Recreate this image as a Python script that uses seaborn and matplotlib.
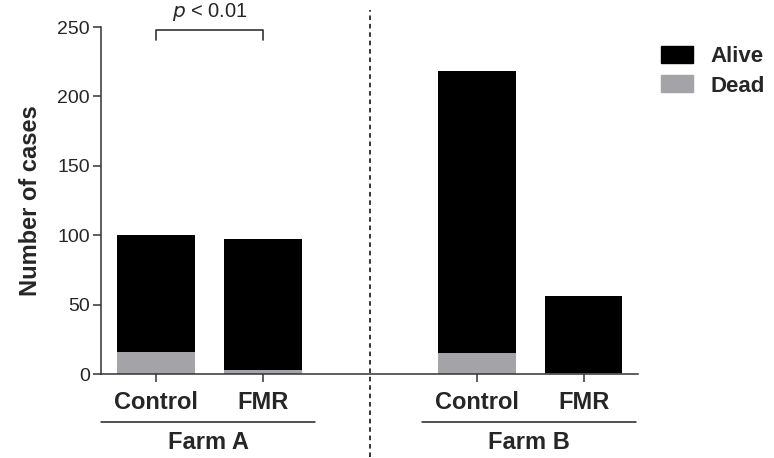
import matplotlib
matplotlib.use('Agg')
import matplotlib.pyplot as plt
from matplotlib.patches import Patch
import pandas as pd
import seaborn as sns

# Data
farms = ['Farm A', 'Farm A', 'Farm B', 'Farm B']
groups = ['Control', 'FMR', 'Control', 'FMR']
alive = [84, 94, 203, 55]
dead = [16, 3, 15, 1]
farm_names = ['Farm A', 'Farm B']
y_ticks = [0, 50, 100, 150, 200, 250]
p_text = r'$\it{p}$ < 0.01'

BLACK = '#000000'
GREY = '#a3a3a8'
AXCOL = '#333333'

df = pd.DataFrame({'farm': farms, 'group': groups, 'alive': alive, 'dead': dead})
df['total'] = df['alive'] + df['dead']
# position: one empty slot between the two farms
df['pos'] = [farm_names.index(f) * 3 + (0 if g == 'Control' else 1) for f, g in zip(df['farm'], df['group'])]

sns.set_style('white')
plt.rcParams['font.family'] = ['Liberation Sans', 'DejaVu Sans']

fig = plt.figure(figsize=(7.74, 4.58), dpi=100)
ax = fig.add_axes([0.1305, 0.1834, 0.6938, 0.7576])

sns.barplot(data=df, x='pos', y='total', native_scale=True, color=BLACK, saturation=1,
            width=0.72, errorbar=None, ax=ax, linewidth=0)
sns.barplot(data=df, x='pos', y='dead', native_scale=True, color=GREY, saturation=1,
            width=0.72, errorbar=None, ax=ax, linewidth=0)

ax.set_xlim(-0.514, 4.505)
ax.set_ylim(0, 250)
ax.set_yticks(y_ticks)
ax.set_yticklabels([str(v) for v in y_ticks], fontsize=14)
ax.set_xticks(df['pos'])
ax.set_xticklabels(df['group'], fontsize=17, fontweight='bold')
ax.tick_params(axis='both', direction='out', length=6, width=1.1, color=AXCOL, bottom=True, left=True)
ax.tick_params(axis='x', pad=6)
ax.tick_params(axis='y', pad=2)
ax.set_xlabel('')
ax.set_ylabel('Number of cases', fontsize=17, fontweight='bold', labelpad=11)
sns.despine(ax=ax)
for s in ['left', 'bottom']:
    ax.spines[s].set_color(AXCOL)
    ax.spines[s].set_linewidth(1.1)

# dashed divider between farms
trans = ax.get_xaxis_transform()
ax.plot([2, 2], [-0.24, 1.05], transform=trans, color='black', lw=1.1,
        ls=(0, (3, 2.5)), clip_on=False)

# farm group underlines and labels
for i, name in enumerate(farm_names):
    c = i * 3 + 0.49
    ax.plot([c - 1.0, c + 1.0], [-0.138, -0.138], transform=trans, color='#222222',
            lw=1.1, clip_on=False)
    ax.text(c, -0.196, name, transform=trans, ha='center', va='center',
            fontsize=17, fontweight='bold')

# significance bracket
ax.plot([0, 0, 1, 1], [240.5, 247.8, 247.8, 240.5], color=AXCOL, lw=1.2, clip_on=False)
ax.text(0.5, 261, p_text, ha='center', va='center', fontsize=14.5)

handles = [Patch(facecolor=BLACK, edgecolor=BLACK), Patch(facecolor=GREY, edgecolor=GREY)]
leg = fig.legend(handles, ['Alive', 'Dead'], loc='upper left', bbox_to_anchor=(0.854, 0.8995),
                 frameon=False, borderpad=0, borderaxespad=0, prop={'weight': 'bold', 'size': 16},
                 handlelength=1.44, handleheight=0.81, handletextpad=0.77, labelspacing=0.36)

fig.savefig('out.png', dpi=100)
